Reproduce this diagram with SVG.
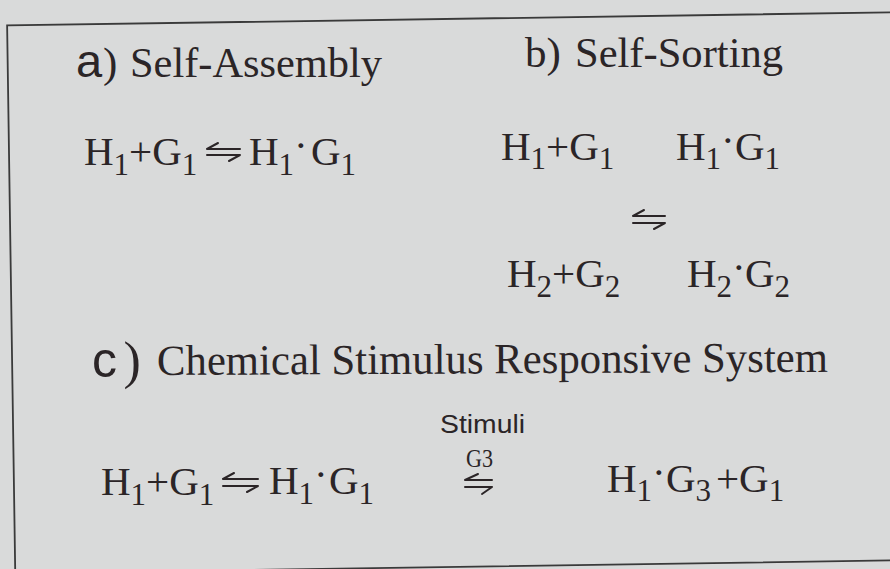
<svg xmlns="http://www.w3.org/2000/svg" width="890" height="569" viewBox="0 0 890 569">
<style>
text{font-family:"Liberation Serif","Times New Roman",serif;fill:#2b2527}
.t{font-size:43px}
.sa{font-family:"Liberation Sans",Arial,sans-serif}
.m{font-size:41px}
.s{font-size:31px}
.st{font-family:"Liberation Sans",Arial,sans-serif;font-size:25px}
.g3{font-size:25px}
.arr{fill:none;stroke:#2b2527;stroke-width:2;stroke-linecap:round}
</style>
<rect x="0" y="0" width="890" height="569" fill="#d9dada"/>
<g id="frame">
<rect x="11" y="19" width="1000" height="548" fill="none" stroke="#3a3a3a" stroke-width="1.8" transform="rotate(-0.85 445 284)"/>
</g>
<g id="title-a">
<text x="76" y="77" class="sa" font-size="47">a</text>
<text x="103" y="77" class="t">)</text>
<text x="130" y="77" class="t" textLength="252" lengthAdjust="spacingAndGlyphs">Self-Assembly</text>
</g>
<g id="title-b">
<text x="525" y="67" class="t">b)</text>
<text x="575" y="67" class="t" textLength="208" lengthAdjust="spacingAndGlyphs">Self-Sorting</text>
</g>
<g id="title-c">
<text x="92" y="377" class="sa" font-size="50">c</text>
<text x="123.5" y="378" font-size="52">)</text>
<text x="157" y="375" class="t" textLength="671" lengthAdjust="spacingAndGlyphs" transform="rotate(-0.28 157 375)">Chemical Stimulus Responsive System</text>
</g>
<g id="eq-a-left">
<text x="84" y="165" class="m">H<tspan class="s" dy="10">1</tspan><tspan dy="-10">+G</tspan><tspan class="s" dy="10">1</tspan></text>
</g>
<g id="eq-a-right">
<text x="249" y="165" class="m">H<tspan class="s" dy="10">1</tspan><tspan dy="-16">·</tspan><tspan x="311" dy="6">G</tspan><tspan class="s" dy="10">1</tspan></text>
</g>
<g id="eq-b1-left">
<text x="501" y="160" class="m">H<tspan class="s" dy="9">1</tspan><tspan dy="-9">+G</tspan><tspan class="s" dy="9">1</tspan></text>
</g>
<g id="eq-b1-right">
<text x="676" y="160" class="m">H<tspan class="s" dy="9">1</tspan><tspan dy="-15">·</tspan><tspan x="735" dy="6">G</tspan><tspan class="s" dy="9">1</tspan></text>
</g>
<g id="eq-b2-left">
<text x="507" y="287" class="m">H<tspan class="s" dy="10">2</tspan><tspan dy="-10">+G</tspan><tspan class="s" dy="10">2</tspan></text>
</g>
<g id="eq-b2-right">
<text x="687" y="287" class="m">H<tspan class="s" dy="10">2</tspan><tspan dy="-16">·</tspan><tspan x="745" dy="6">G</tspan><tspan class="s" dy="10">2</tspan></text>
</g>
<g id="eq-c-left">
<text x="101" y="495" class="m">H<tspan class="s" dy="10">1</tspan><tspan dy="-10">+G</tspan><tspan class="s" dy="10">1</tspan></text>
</g>
<g id="eq-c-mid">
<text x="269" y="494" class="m">H<tspan class="s" dy="10">1</tspan><tspan dy="-16">·</tspan><tspan x="329" dy="6">G</tspan><tspan class="s" dy="10">1</tspan></text>
</g>
<g id="stimulus">
<text x="440" y="433" class="st" textLength="85" lengthAdjust="spacingAndGlyphs">Stimuli</text>
<text x="466" y="467" class="g3" textLength="27" lengthAdjust="spacingAndGlyphs">G3</text>
</g>
<g id="eq-c-right">
<text x="607" y="492" class="m">H<tspan class="s" dy="9">1</tspan><tspan dy="-15">·</tspan><tspan x="666" dy="6">G</tspan><tspan class="s" dy="9">3</tspan><tspan x="716" dy="-9">+G</tspan><tspan class="s" dy="9">1</tspan></text>
</g>
<g id="connectors">
<path class="arr" d="M207,149 H240 M207,149 L218,143 M207,155 H240 M240,155 L229,161"/>
<path class="arr" d="M633,216 H665 M633,216 L644,210 M633,223 H665 M665,223 L654,229"/>
<path class="arr" d="M223,479 H258 M223,479 L234,473 M223,486 H258 M258,486 L247,492"/>
<path class="arr" d="M465,480 H492 M465,480 L478,474 M465,487 H492 M492,487 L482,494"/>
</g>
</svg>
